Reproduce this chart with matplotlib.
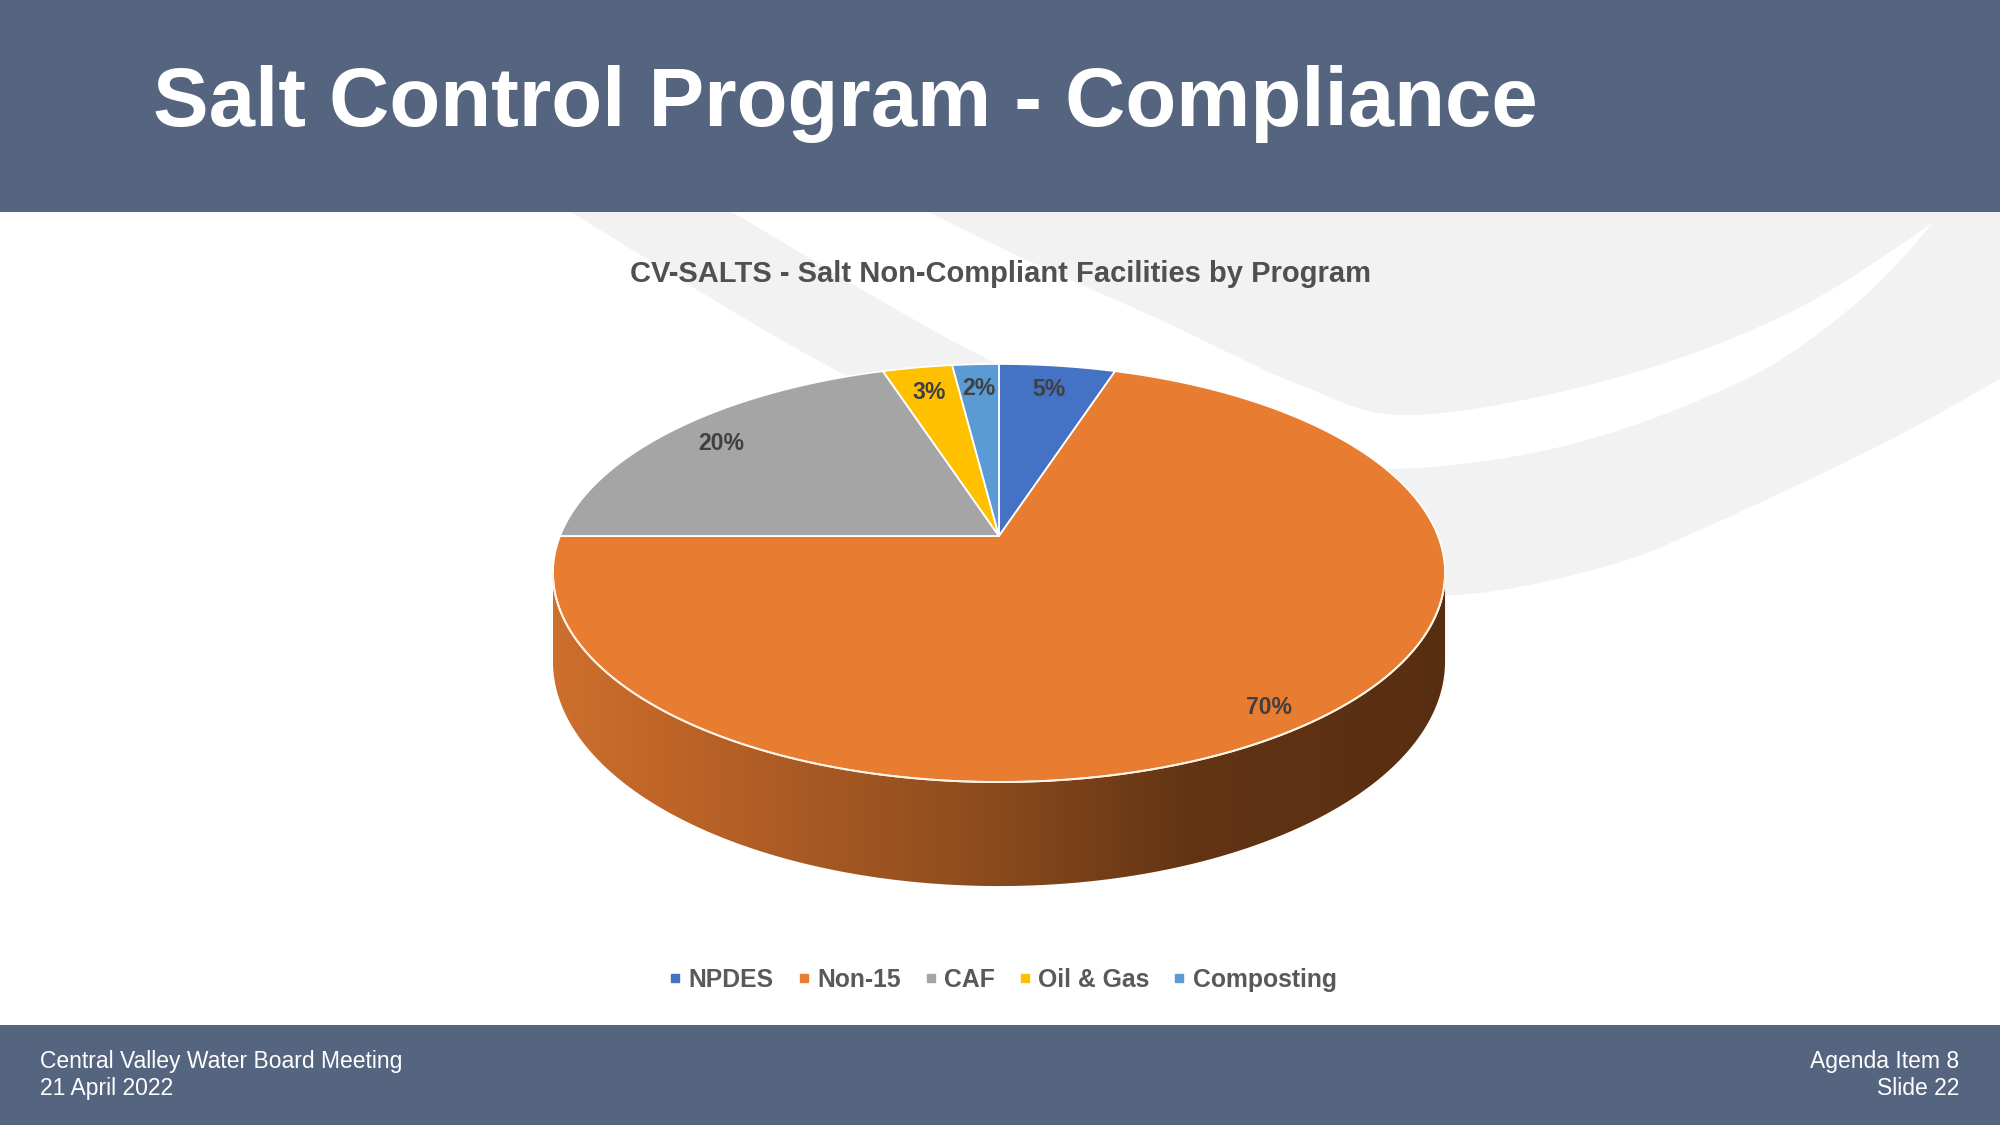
import numpy as np
import matplotlib
matplotlib.use("Agg")
import matplotlib.pyplot as plt
from matplotlib.patches import Polygon, Rectangle
from matplotlib.lines import Line2D

plt.rcParams['font.family'] = ['Liberation Sans', 'DejaVu Sans']

# ---------------- data ----------------
slide_title = "Salt Control Program - Compliance"
chart_title = "CV-SALTS - Salt Non-Compliant Facilities by Program"
categories = ["NPDES", "Non-15", "CAF", "Oil & Gas", "Composting"]
values = [5, 70, 20, 3, 2]
colors = ["#4472C4", "#E87D31", "#A5A5A5", "#FFC000", "#5B9BD5"]
footer_left = ["Central Valley Water Board Meeting", "21 April 2022"]
footer_right = ["Agenda Item 8", "Slide 22"]

# ---------------- layout / style ----------------
W, H = 2000, 1125
HEADER = "#55647F"
SWOOSH = "#F2F2F2"
cx, cy = 999, 536           # pie apex (pixels)
RX, A, B = 439, 202.5, 0.177  # perspective ellipse parameters
T = 85.6                    # wall thickness
label_r = [0.84, 0.91, 0.85, 0.83, 0.84]

fig = plt.figure(figsize=(20, 11.25), dpi=100)
ax = fig.add_axes([0, 0, 1, 1])
ax.set_axis_off()


def proj(theta_deg, r=1.0):
    t = np.radians(theta_deg)
    u = r * np.sin(t)
    v = r * np.cos(t)
    s = 1.0 / (1.0 + B * v)
    return cx + RX * u * s, cy - A * v * s, s


def catmull(pts, n=24):
    pts = np.asarray(pts, float)
    P = np.vstack([pts[0], pts, pts[-1]])
    out = []
    for i in range(1, len(P) - 2):
        p0, p1, p2, p3 = P[i - 1], P[i], P[i + 1], P[i + 2]
        for t in np.linspace(0, 1, n, endpoint=False):
            t2, t3 = t * t, t * t * t
            out.append(0.5 * ((2 * p1) + (-p0 + p2) * t +
                              (2 * p0 - 5 * p1 + 4 * p2 - p3) * t2 +
                              (-p0 + 3 * p1 - 3 * p2 + p3) * t3))
    out.append(pts[-1])
    return np.array(out)


# ---------------- background swoosh ----------------
outer = catmull([(571, 212), (790, 345), (1000, 455), (1150, 530), (1300, 585),
                 (1456, 595), (1600, 568), (1702, 529), (1880, 445), (2000, 379)])
poly = np.vstack([outer, [(2000, 212)], [(571, 212)]])
ax.add_patch(Polygon(poly, closed=True, facecolor=SWOOSH, edgecolor='none', zorder=0))

lower_in = catmull([(732, 212), (960, 345), (1100, 405), (1250, 450), (1389, 469),
                    (1568, 445), (1746, 379), (1860, 300), (1934, 222)])
upper_b = catmull([(1934, 222), (1791, 312), (1612, 379), (1412, 415), (1300, 385),
                   (1165, 322), (1031, 262), (928, 212)])
sliver = np.vstack([lower_in, upper_b])
ax.add_patch(Polygon(sliver, closed=True, facecolor='white', edgecolor='none', zorder=0.5))

# ---------------- header / footer ----------------
ax.add_patch(Rectangle((0, 0), W, 212, facecolor=HEADER, edgecolor='none', zorder=1))
ax.add_patch(Rectangle((0, 1025), W, 100, facecolor=HEADER, edgecolor='none', zorder=1))
ax.text(153, 126, slide_title, color='white', fontsize=60, fontweight='bold',
        ha='left', va='baseline', zorder=2)
ax.text(40, 1068, footer_left[0], color='white', fontsize=16.5, ha='left', va='baseline', zorder=2)
ax.text(40, 1095, footer_left[1], color='white', fontsize=16.5, ha='left', va='baseline', zorder=2)
ax.text(1959, 1068, footer_right[0], color='white', fontsize=16.5, ha='right', va='baseline', zorder=2)
ax.text(1959, 1095, footer_right[1], color='white', fontsize=16.5, ha='right', va='baseline', zorder=2)

# chart title
ax.text(1000, 274, chart_title, color='#505050', fontsize=21, fontweight='bold',
        ha='center', va='center', zorder=2)

# ---------------- 3D pie ----------------
total = float(sum(values))
bounds = np.concatenate([[0], np.cumsum(values)]) / total * 360.0

# silhouette angles (extreme X)
ths = np.linspace(0, 360, 3601)
xs, _, _ = proj(ths)
th_r = ths[np.argmax(xs)]
th_l = ths[np.argmin(xs)]

wth = np.linspace(th_r, th_l, 400)
xt, yt, st = proj(wth)
yb = yt + T * st
wall = np.vstack([np.column_stack([xt, yt]), np.column_stack([xt[::-1], yb[::-1]])])
wall_patch = Polygon(wall, closed=True, facecolor='none', edgecolor='none', zorder=2)
ax.add_patch(wall_patch)
stops = np.array([0.0, 0.12, 0.45, 0.72, 1.0])
cols = np.array([[205, 112, 46], [192, 101, 40], [145, 78, 31], [98, 52, 20], [88, 46, 17]]) / 255.0
gx = np.linspace(0, 1, 512)
grad = np.stack([np.interp(gx, stops, cols[:, k]) for k in range(3)], axis=-1)[None, :, :]
im = ax.imshow(grad, extent=(xt.min(), xt.max(), yb.max() + 2, yt.min()), aspect='auto',
               zorder=2, interpolation='bilinear')
im.set_clip_path(wall_patch)

# top face slices
for i, (c, a0, a1) in enumerate(zip(colors, bounds[:-1], bounds[1:])):
    th = np.linspace(a0, a1, max(4, int((a1 - a0) * 4)))
    px, py, _ = proj(th)
    pts = np.vstack([[cx, cy], np.column_stack([px, py])])
    ax.add_patch(Polygon(pts, closed=True, facecolor=c, edgecolor='white',
                         linewidth=1.3, joinstyle='round', zorder=3))

# rim highlight along the front edge
rx_, ry_, _ = proj(np.linspace(th_r, th_l, 300))
ax.plot(rx_, ry_, color='#FFF3E6', lw=1.4, zorder=3.5)

# data labels
for i, (v, a0, a1) in enumerate(zip(values, bounds[:-1], bounds[1:])):
    mx, my, _ = proj((a0 + a1) / 2.0, label_r[i])
    ax.text(mx, my, f"{v}%", color='#404040', fontsize=16.6, fontweight='bold',
            ha='center', va='center', zorder=5)

# legend
handles = [Line2D([], [], marker='s', ls='', color=c, markersize=6) for c in colors]
leg = ax.legend(handles, categories, loc='center', bbox_to_anchor=(1003 / W, 1 - 980 / H),
                ncol=5, frameon=False, handlelength=0.5, handletextpad=0.3,
                columnspacing=0.95, prop={'size': 17.8, 'weight': 'bold'})
for t in leg.get_texts():
    t.set_color('#595959')

ax.set_xlim(0, W)
ax.set_ylim(H, 0)
fig.savefig("out.png", dpi=100, facecolor='white')
